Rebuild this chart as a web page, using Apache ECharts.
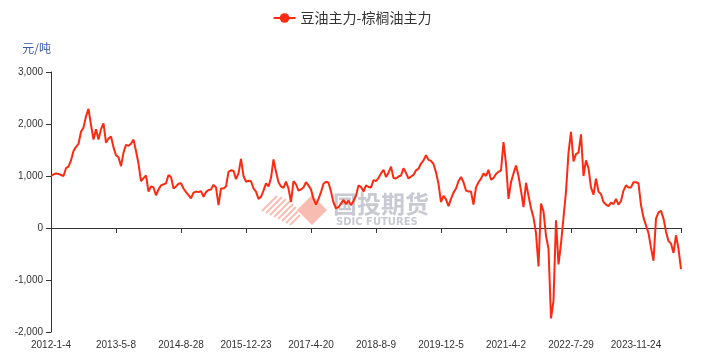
<!DOCTYPE html>
<html><head><meta charset="utf-8">
<script src="https://cdn.jsdelivr.net/npm/echarts@6/dist/echarts.min.js"></script>
<style>html,body{margin:0;padding:0;background:#fff}#c{width:704px;height:362px}</style>
</head><body><div id="c"></div>
<script>
// tick labels on the category axis (every 26th point)
const tickLabels = ['2012-1-4','2013-5-8','2014-8-28','2015-12-23','2017-4-20','2018-8-9','2019-12-5','2021-4-2','2022-7-29','2023-11-24'];
const pointsPerTick = 26;
const seriesName = '豆油主力-棕榈油主力';
// spread values (元/吨), one array per tick interval
const seg2012 = [1000,1030,1050,1040,1020,1000,1150,1180,1300,1480,1560,1620,1850,1930,2150,2290,1980,1700,1900,1700,1900,2010,1640,1720,1760,1550];
const seg2013 = [1400,1360,1190,1450,1600,1580,1620,1700,1480,1240,900,960,1010,700,800,780,630,740,820,840,860,1020,980,760,800,850];
const seg2014 = [860,760,690,630,570,680,700,690,710,600,690,730,740,830,780,440,760,760,800,1080,1110,1100,940,1050,1330,1000];
const seg2015 = [890,910,900,760,700,560,600,720,860,800,960,1320,1080,880,800,770,890,760,500,900,840,720,740,780,880,820];
const seg2017 = [740,560,450,560,690,850,890,870,700,490,380,400,470,540,460,530,440,520,620,820,790,700,820,790,780,920];
const seg2018 = [900,960,1050,1120,980,1060,1180,960,950,990,1010,1150,1060,950,990,1020,1110,1140,1240,1300,1400,1310,1290,1230,1070,850];
const seg2019 = [500,620,550,420,560,680,760,900,980,880,720,700,700,450,780,880,950,1050,1000,1120,930,960,1040,1080,1110,1650];
const seg2021 = [1240,560,880,1050,1200,1000,720,400,870,620,380,200,-100,-740,470,320,-150,-400,-1740,-1400,150,-700,-300,200,700,1450];
const seg2022 = [1850,1280,1420,1450,1800,1000,1300,1150,780,640,950,700,650,500,450,420,490,460,560,450,520,720,820,780,780,880];
const seg2023 = [880,860,440,200,50,-100,-380,-630,180,300,330,180,-70,-250,-300,-480,-140,-400,-790];

const values = [].concat(seg2012,seg2013,seg2014,seg2015,seg2017,seg2018,seg2019,seg2021,seg2022,seg2023);
const categories = values.map((v,i)=> i % pointsPerTick === 0 ? tickLabels[i/pointsPerTick] : 'p' + i);
const lastIdx = values.length - 1;

const chart = echarts.init(document.getElementById('c'), null, {renderer:'canvas'});
const red = '#fc2a10';
const axisColor = '#333';
const font = '"Liberation Sans", Arial, sans-serif';
chart.setOption({
  animation:false,
  backgroundColor:'#fff',
  legend:{
    top:6, left:'center', itemWidth:22, itemHeight:12, itemGap:8,
    data:[seriesName],
    textStyle:{fontSize:14, color:'#333', fontFamily:'"Noto Sans CJK SC", sans-serif'}
  },
  grid:{left:51, right:23, top:72, bottom:30, containLabel:false},
  xAxis:[{
    type:'category', data:categories, boundaryGap:false,
    axisLine:{show:false, onZero:false}, axisTick:{show:false}, splitLine:{show:false},
    axisLabel:{interval:(i)=> i % pointsPerTick === 0, color:'#333', fontSize:10, fontFamily:font, margin:8, hideOverlap:false}
  },{
    type:'category', data:categories, boundaryGap:false, position:'bottom',
    axisLine:{show:true, onZero:true, lineStyle:{color:axisColor, width:1}},
    axisTick:{show:true, length:5, interval:(i)=> i % pointsPerTick === 0 || i === lastIdx, lineStyle:{color:axisColor}},
    axisLabel:{show:false}, splitLine:{show:false}
  }],
  yAxis:{
    type:'value', min:-2000, max:3000, interval:1000,
    name:'元/吨', nameLocation:'end', nameGap:18,
    nameTextStyle:{color:'#3a5aa8', fontSize:12, align:'right', fontFamily:'"Noto Sans CJK SC", sans-serif'},
    axisLine:{show:true, lineStyle:{color:axisColor}},
    axisTick:{show:true, length:5, lineStyle:{color:axisColor}},
    splitLine:{show:false},
    axisLabel:{color:'#333', fontSize:10, fontFamily:font, margin:8}
  },
  graphic:[
    {type:'group', z:0, silent:true, children:[
      {type:'line', shape:{x1:262,y1:211,x2:277,y2:196}, style:{stroke:'#f9bcb1', lineWidth:2}},
      {type:'line', shape:{x1:266,y1:213,x2:282,y2:197}, style:{stroke:'#f9bcb1', lineWidth:2}},
      {type:'line', shape:{x1:270,y1:215,x2:286,y2:199}, style:{stroke:'#f9bcb1', lineWidth:2}},
      {type:'line', shape:{x1:274,y1:217,x2:290,y2:201}, style:{stroke:'#f9bcb1', lineWidth:2}},
      {type:'line', shape:{x1:278,y1:219,x2:293,y2:204}, style:{stroke:'#f9bcb1', lineWidth:2}},
      {type:'line', shape:{x1:282,y1:221,x2:296,y2:207}, style:{stroke:'#f9bcb1', lineWidth:2}},
      {type:'line', shape:{x1:286,y1:223,x2:298,y2:211}, style:{stroke:'#f9bcb1', lineWidth:2}},
      {type:'line', shape:{x1:290,y1:225,x2:300,y2:215}, style:{stroke:'#f9bcb1', lineWidth:2}},
      {type:'polygon', shape:{points:[[312,195],[327,210],[312,225],[297,210]]}, style:{fill:'#f9bcb1'}},
      {type:'text', x:333, y:192, style:{text:'国投期货', fill:'#c8c9d2', fontSize:24, fontWeight:'bold', fontFamily:'"Noto Sans CJK SC", sans-serif', textVerticalAlign:'top'}},
      {type:'text', x:336, y:217, style:{text:'SDIC FUTURES', fill:'#c8c9d2', fontSize:10, fontWeight:'bold', fontFamily:'"DejaVu Sans", sans-serif', textVerticalAlign:'top'}}
    ]}
  ],
  series:[{
    name:seriesName, type:'line', data:values, xAxisIndex:0, yAxisIndex:0,
    showSymbol:false, symbol:'circle', symbolSize:8, smooth:false, z:3,
    lineStyle:{color:red, width:2}, itemStyle:{color:red}
  }]
});
</script></body></html>
